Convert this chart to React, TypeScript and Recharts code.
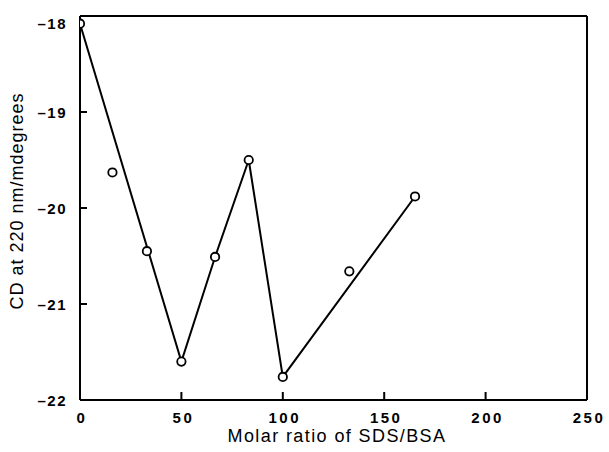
import React from 'react';
import { ScatterChart, Scatter, XAxis, YAxis, ReferenceLine } from 'recharts';

const ratioPoints = [0, 16, 33, 50, 66.6, 83.2, 100, 132.8, 165.2];
const cdPoints = [-18.08, -19.63, -20.45, -21.6, -20.51, -19.5, -21.76, -20.66, -19.88];

const ratioLine = [0, 50, 66.6, 83.2, 100, 165.2];
const cdLine = [-18.08, -21.6, -20.51, -19.5, -21.76, -19.88];

const xTicks = [0, 50, 100, 150, 200, 250];
const yTicks = [-22, -21, -20, -19, -18];

const xLabel = 'Molar ratio of SDS/BSA';
const yLabel = 'CD at 220 nm/mdegrees';

const pointData = ratioPoints.map((x, i) => ({ x, y: cdPoints[i] }));
const lineData = ratioLine.map((x, i) => ({ x, y: cdLine[i] }));
const xTickMarks = xTicks.slice(1, -1).map((x) => ({ x, y: yTicks[0] }));
const yTickMarks = yTicks.slice(1, -1).map((y) => ({ x: xTicks[0], y }));

const FONT = '"Liberation Sans", Arial, sans-serif';

const XTick = (props: any) => {
  const { x, y, payload } = props;
  return (
    <text x={x + 2} y={y + 23} textAnchor="middle" fontFamily={FONT} fontSize={15} fontWeight="bold" letterSpacing={2.5} fill="#000">
      {payload.value}
    </text>
  );
};

const YTick = (props: any) => {
  const { x, y, payload } = props;
  const off = payload.value === -18 ? 7 : 0;
  return (
    <text x={x - 13} y={y + 6 + off} textAnchor="end" fontFamily={FONT} fontSize={15} fontWeight="bold" letterSpacing={1.5} fill="#000">
      {String(payload.value).replace('-', '\u2013')}
    </text>
  );
};

const OpenCircle = (props: any) => {
  const { cx, cy } = props;
  return <circle cx={cx} cy={cy} r={4.2} fill="#fff" stroke="#000" strokeWidth={1.8} />;
};

const UpTick = (props: any) => {
  const { cx, cy } = props;
  return <rect x={cx - 1} y={cy - 8} width={2} height={8} fill="#000" />;
};

const RightTick = (props: any) => {
  const { cx, cy } = props;
  return <rect x={cx} y={cy - 1} width={7} height={2} fill="#000" />;
};

const NoShape = () => null;

export default function App() {
  return (
    <div style={{ position: 'absolute', left: 0, top: 0, background: '#fff' }}>
      <ScatterChart width={609} height={452} margin={{ top: 16, right: 22, bottom: 0, left: 0 }}>
        <XAxis
          type="number"
          dataKey="x"
          domain={[0, 250]}
          ticks={xTicks}
          tickSize={0}
          tickMargin={0}
          tickLine={false}
          tick={<XTick />}
          height={52}
          axisLine={{ stroke: '#000', strokeWidth: 2 }}
          allowDataOverflow
          label={() => (
            <text x={337} y={442} textAnchor="middle" fontFamily={FONT} fontSize={18} letterSpacing={1.4} fill="#000">
              {xLabel}
            </text>
          )}
        />
        <YAxis
          type="number"
          dataKey="y"
          domain={[-22, -18]}
          ticks={yTicks}
          tickSize={0}
          tickMargin={0}
          tickLine={false}
          tick={<YTick />}
          width={80}
          axisLine={{ stroke: '#000', strokeWidth: 2 }}
          allowDataOverflow
          label={() => (
            <text x={23} y={201} transform="rotate(-90 23 201)" textAnchor="middle" fontFamily={FONT} fontSize={18} letterSpacing={1} fill="#000">
              {yLabel}
            </text>
          )}
        />
        <ReferenceLine y={-18} stroke="#000" strokeWidth={2} ifOverflow="visible" />
        <ReferenceLine x={250} stroke="#000" strokeWidth={2} ifOverflow="visible" />
        <Scatter data={xTickMarks} shape={<UpTick />} isAnimationActive={false} />
        <Scatter data={yTickMarks} shape={<RightTick />} isAnimationActive={false} />
        <Scatter data={lineData} line={{ stroke: '#000', strokeWidth: 2 }} shape={<NoShape />} isAnimationActive={false} />
        <Scatter data={pointData} shape={<OpenCircle />} isAnimationActive={false} />
      </ScatterChart>
    </div>
  );
}
